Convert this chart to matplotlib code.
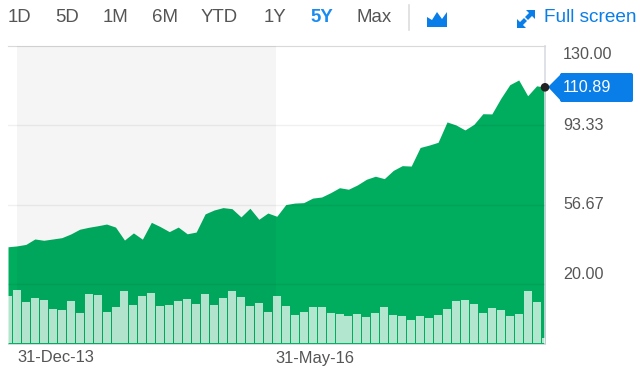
import matplotlib
matplotlib.use('Agg')
import matplotlib.pyplot as plt
from matplotlib.patches import Polygon, Circle, FancyBboxPatch

W, H = 643, 371
TOP, BOTTOM, LEFT, RIGHT = 46, 344, 8, 545

price = [37.2, 37.6, 38.3, 40.8, 40.2, 40.8, 41.4, 43.1, 45.3, 46.2,
         46.9, 47.7, 46.3, 40.3, 43.6, 40.7, 48.5, 46.5, 44.2, 46.3,
         43.2, 44.0, 52.4, 54.2, 55.3, 54.8, 51.0, 55.0, 49.9, 52.8,
         51.3, 56.7, 57.4, 57.6, 59.7, 60.2, 62.2, 64.5, 63.8, 65.8,
         68.4, 69.8, 68.7, 72.5, 74.7, 74.5, 83.1, 84.2, 85.5, 94.9,
         93.5, 91.2, 93.8, 98.7, 98.6, 105.8, 112.1, 114.3, 107.0, 111.6,
         110.89]
volume = [47.3, 53, 41, 45, 43.3, 34, 33, 42.3, 30.7, 49,
          48.7, 31.3, 36.7, 52.3, 38.3, 47, 50, 37, 38.7, 42,
          44.7, 39.3, 49, 38.3, 45.3, 52.7, 46.3, 37.3, 40.3, 31.7,
          47, 37.7, 28, 31.3, 36, 36, 30.7, 29.3, 27, 29,
          26.3, 30.7, 36.7, 28.3, 27, 23.3, 27, 25.7, 28, 34,
          42, 43.3, 39, 30, 35.3, 33.7, 27.7, 29, 52.7, 41.7,
          5.3]
y_ticks = [130.00, 93.33, 56.67, 20.00]
y_label_shift = [-9, 0, 0, 9]
x_ticks = [1, 29.9]
x_labels = ['31-Dec-13', '31-May-16']
buttons = ['1D', '5D', '1M', '6M', 'YTD', '1Y', '5Y', 'Max']
button_x = [8, 55, 103, 152, 201, 264, 310, 356]

GREEN = '#00ad5f'
BLUE = '#0a7ee8'
GREY = '#555555'

plt.rcParams['font.family'] = ['Liberation Sans', 'DejaVu Sans']

fig = plt.figure(figsize=(W / 100, H / 100), dpi=100)
ax = fig.add_axes([LEFT / W, 1 - BOTTOM / H, (RIGHT - LEFT) / W, (BOTTOM - TOP) / H])
xs = list(range(len(price)))
ax.set_xlim(0, (RIGHT - LEFT) / 8.96)
ax.set_ylim(-7.74, 130)
ax.fill_between(xs, price, -7.74, color=GREEN, lw=0, zorder=2)
ax.axvspan(x_ticks[0], x_ticks[1], color='black', alpha=0.04, lw=0, zorder=3)
for t in y_ticks[1:]:
    ax.axhline(t, color='black', alpha=0.06, lw=1, zorder=3)
ax.set_xticks([])
ax.set_yticks([])
for side in ['left']:
    ax.spines[side].set_visible(False)
ax.spines['bottom'].set_color('#d5dde0')
ax.spines['top'].set_color('#d9d9d9')
ax.spines['right'].set_color('#d8dbe3')
ax.spines['right'].set_linewidth(1.2)

# volume sits on its own scale, in the same box
vol = ax.twinx()
vol.set_ylim(-0.7, BOTTOM - TOP)
vol.bar(xs, volume, width=0.89, color='white', alpha=0.7, lw=0, zorder=4)
vol.set_yticks([])
for side in vol.spines:
    vol.spines[side].set_visible(False)
ax.set_zorder(1)
vol.set_zorder(2)

for t, shift in zip(y_ticks, y_label_shift):
    ax.annotate(f'{t:.2f}', (1, t), xycoords=('axes fraction', 'data'),
                xytext=(18 * 0.72, shift * 0.72), textcoords='offset points',
                ha='left', va='center', fontsize=11.6, color=GREY, annotation_clip=False)
for t, lab in zip(x_ticks, x_labels):
    ax.annotate(lab, (t, 0), xycoords=('data', 'axes fraction'),
                xytext=(0, -14 * 0.72), textcoords='offset points',
                ha='left', va='center', fontsize=11.9, color=GREY, annotation_clip=False)

# toolbar and price tag, laid out in pixels
ui = fig.add_axes([0, 0, 1, 1], zorder=5)
ui.set_xlim(0, W)
ui.set_ylim(H, 0)
ui.axis('off')
for lab, x in zip(buttons, button_x):
    selected = lab == '5Y'
    ui.text(x, 18, lab, fontsize=13.4, va='center', ha='left',
            color='#1a8cf0' if selected else GREY,
            fontweight='bold' if selected else 'normal')
ui.plot([409, 409], [5, 30], color='#dddddd', lw=1.2)
ui.add_patch(Polygon([(427, 27), (427, 17), (432, 20), (437, 12), (442, 19), (447, 12), (447, 27)],
                     closed=True, color=BLUE, lw=0))
ui.text(544, 18, 'Full screen', fontsize=13.7, va='center', ha='left', color=BLUE)
# expand icon: two arrows pointing apart
ui.add_patch(Polygon([(535, 10), (526, 10), (529, 13), (525, 17), (528, 20), (532, 16), (535, 19)],
                     closed=True, color=BLUE, lw=0))
ui.add_patch(Polygon([(517, 28), (526, 28), (523, 25), (527, 21), (524, 18), (520, 22), (517, 19)],
                     closed=True, color=BLUE, lw=0))

ui.add_patch(Polygon([(548, 87), (562, 73), (562, 102)], closed=True, color=BLUE, lw=0))
ui.add_patch(FancyBboxPatch((561, 74), 71, 27, boxstyle='round,pad=1,rounding_size=2',
                            color=BLUE, lw=0))
ui.text(563, 87.5, f'{price[-1]:.2f}', fontsize=11.6, color='white', va='center', ha='left')
ui.add_patch(Circle((545, 87.3), 4.3, color='#222222', lw=0, zorder=6))

fig.savefig('out.png', dpi=100)
